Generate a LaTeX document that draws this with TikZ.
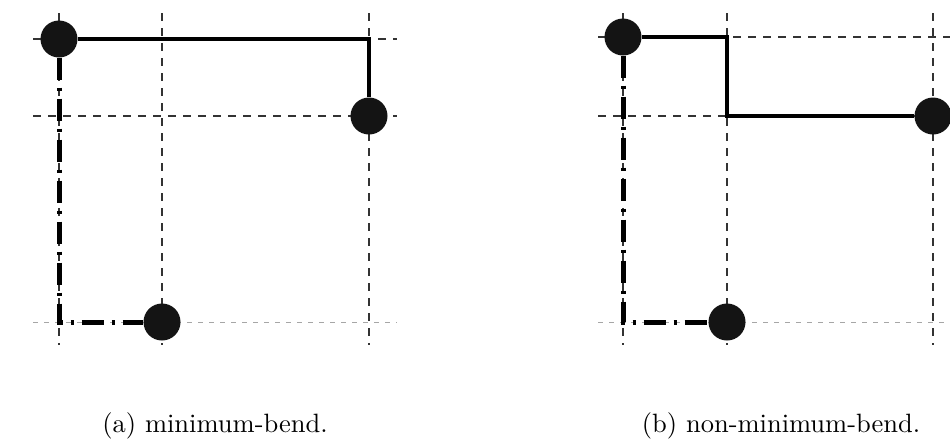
\documentclass[tikz,border=0pt]{standalone}
\begin{document}
\begin{tikzpicture}[x=1pt,y=-1pt,
  gridline/.style={line width=1.1pt, black!80, dash pattern=on 8pt off 7pt},
  faintgrid/.style={line width=1pt, black!35, dash pattern=on 5pt off 6pt},
  vtx/.style={circle, fill=black!92, minimum size=37pt, inner sep=0pt},
  route/.style={line width=4pt, black},
  altroute/.style={line width=5pt, black, dash pattern=on 22pt off 8pt on 3pt off 8pt},
  caption/.style={scale=2.65, anchor=base, inner sep=0pt}]
\useasboundingbox (0,0) rectangle (950,445);
\clip (0,0) rectangle (950,445);
% grid (a)
\foreach \x in {59,162,369} \draw[gridline] (\x,13) -- (\x,345);
\draw[gridline] (33,39) -- (397,39);
\draw[gridline] (33,116) -- (397,116);
\draw[faintgrid] (33,322) -- (397,322);
% grid (b)
\foreach \x in {623,727,933} \draw[gridline] (\x,13) -- (\x,345);
\draw[gridline] (598,37) -- (955,37);
\draw[gridline] (598,116) -- (955,116);
\draw[faintgrid] (598,322) -- (955,322);
% vertices
\node[vtx] (a1) at (59,39) {};
\node[vtx] (a2) at (369,116) {};
\node[vtx] (a3) at (162,322) {};
\node[vtx] (b1) at (623,37) {};
\node[vtx] (b2) at (933,116) {};
\node[vtx] (b3) at (727,322) {};
% routes (a)
\draw[route] (a1) -- (a2 |- a1) -- (a2);
\draw[altroute] (a1) -- (a1 |- a3) -- (a3);
% routes (b)
\draw[route] (b1) -- (b3 |- b1) -- (b3 |- b2) -- (b2);
\draw[altroute] (b1) -- (b1 |- b3) -- (b3);
% captions
\node[caption] (capa) at (215,432) {(a) minimum-bend.};
\node[caption] (capb) at (781,432) {(b) non-minimum-bend.};
\end{tikzpicture}
\end{document}
